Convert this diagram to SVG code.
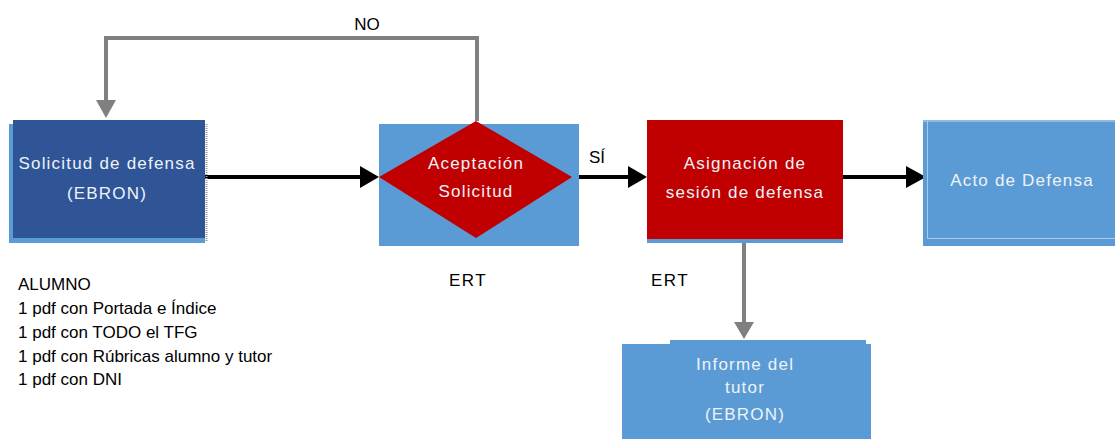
<svg xmlns="http://www.w3.org/2000/svg" width="1115" height="439" viewBox="0 0 1115 439">
<defs>
<style>
.t{font-family:"Liberation Sans",Arial,sans-serif;font-size:17px;fill:#eef2f8;text-anchor:middle;letter-spacing:1.2px}
.k{font-family:"Liberation Sans",Arial,sans-serif;font-size:17px;fill:#000}
.blk{stroke:#000;stroke-width:4;fill:none}
.gry{stroke:#808080;stroke-width:4;fill:none}
</style>
</defs>
<g id="connectors">
<path class="gry" d="M477,121V38H106V101"/>
<path d="M96,100H116L106,118Z" fill="#808080"/>
<path class="blk" d="M205,177H362"/>
<path d="M360,166L379,177L360,188Z" fill="#000"/>
<path class="blk" d="M572,177H630"/>
<path d="M628,166L647,177L628,188Z" fill="#000"/>
<path class="blk" d="M843,177H908"/>
<path d="M906,166L926,177L906,188Z" fill="#000"/>
<path class="gry" d="M744,236V324"/>
<path d="M734,322H754L744,339Z" fill="#808080"/>
</g>
<g id="solicitud">
<rect x="9" y="124" width="196" height="119" fill="#5B9BD5"/>
<rect x="13" y="120" width="192" height="118" fill="#2F5597"/>
<line x1="206.5" y1="124" x2="206.5" y2="242" stroke="#999" stroke-width="2" stroke-dasharray="1,1"/>
<text class="t" x="107" y="169">Solicitud de defensa</text>
<text class="t" x="107" y="199">(EBRON)</text>
</g>
<g id="aceptacion">
<rect x="379" y="124" width="200" height="122" fill="#5B9BD5"/>
<polygon points="476,121 572,177 476,238 379,177" fill="#C00000"/>
<text class="t" x="476" y="169">Aceptación</text>
<text class="t" x="476" y="197">Solicitud</text>
</g>
<g id="asignacion">
<rect x="647" y="124" width="196" height="119" fill="#5B9BD5"/>
<rect x="647" y="120" width="196" height="119" fill="#C00000"/>
<text class="t" x="745" y="169">Asignación de</text>
<text class="t" x="745" y="198">sesión de defensa</text>
</g>
<g id="acto">
<rect x="923" y="120" width="192" height="126" fill="#5B9BD5"/>
<path d="M927.5,121V238.5H1115" stroke="#A9CBEA" stroke-width="1" fill="none"/>
<path d="M923,121H1115" stroke="#C5DAEE" stroke-width="1" fill="none"/>
<text class="t" x="1022" y="186">Acto de Defensa</text>
</g>
<g id="informe">
<polygon points="670,340 866,340 866,344 871,344 871,439 622,439 622,344 670,344" fill="#5B9BD5"/>
<text class="t" x="745" y="370">Informe del</text>
<text class="t" x="745" y="393">tutor</text>
<text class="t" x="745" y="420">(EBRON)</text>
</g>
<g id="labels">
<text class="k" x="367" y="30" text-anchor="middle">NO</text>
<text class="k" x="597" y="163" text-anchor="middle">SÍ</text>
<text class="k" x="468" y="286" text-anchor="middle" letter-spacing="1.5">ERT</text>
<text class="k" x="670" y="286" text-anchor="middle" letter-spacing="1.5">ERT</text>
<text class="k" x="18" y="290">ALUMNO</text>
<text class="k" x="18" y="314">1 pdf con Portada e Índice</text>
<text class="k" x="18" y="338">1 pdf con TODO el TFG</text>
<text class="k" x="18" y="362">1 pdf con Rúbricas alumno y tutor</text>
<text class="k" x="18" y="385">1 pdf con DNI</text>
</g>
</svg>
